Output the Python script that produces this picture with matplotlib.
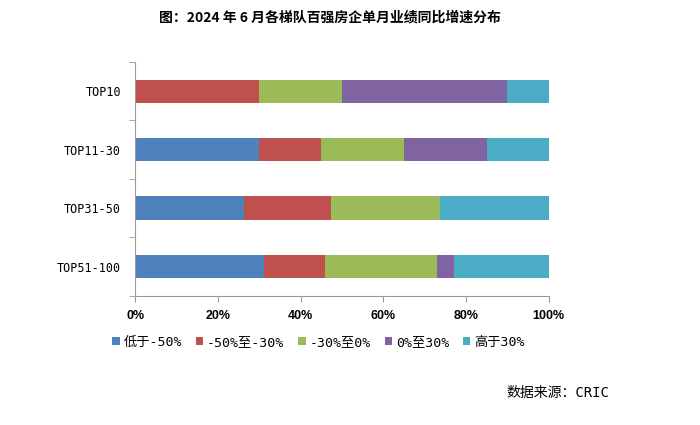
import matplotlib
matplotlib.use("Agg")
import matplotlib.pyplot as plt
import numpy as np
from matplotlib.patches import Patch

plt.rcParams["font.family"] = ["Noto Sans CJK SC", "DejaVu Sans"]
MONO = ["DejaVu Sans Mono", "Noto Sans CJK SC"]

CATEGORIES = ["TOP10", "TOP11-30", "TOP31-50", "TOP51-100"]
SERIES = ["低于-50%", "-50%至-30%", "-30%至0%", "0%至30%", "高于30%"]
COLORS = ["#4F81BD", "#C0504D", "#9BBB59", "#8064A2", "#4BACC6"]

# share of companies in each growth band (%)
below_m50 = [0.0, 30.0, 26.3, 31.2]
m50_m30 = [30.0, 15.0, 21.1, 14.6]
m30_0 = [20.0, 20.0, 26.3, 27.1]
p0_p30 = [40.0, 20.0, 0.0, 4.2]
above_p30 = [10.0, 15.0, 26.3, 22.9]
VALUES = [below_m50, m50_m30, m30_0, p0_p30, above_p30]

XTICKS = [0, 20, 40, 60, 80, 100]
XTICK_LABELS = ["0%", "20%", "40%", "60%", "80%", "100%"]

fig = plt.figure(figsize=(7, 4.25), dpi=100)
ax = fig.add_axes([0.193, 0.304, 0.591, 0.550])

y = np.arange(len(CATEGORIES))
left = np.zeros(len(CATEGORIES))
for vals, color in zip(VALUES, COLORS):
    vals = np.array(vals)
    ax.barh(y, vals, left=left, height=0.4, color=color, edgecolor="none")
    left += vals

ax.set_ylim(3.5, -0.5)
ax.set_xlim(0, 100)
ax.set_yticks(y)
ax.set_yticklabels(CATEGORIES, fontsize=8.5, family=MONO)
ax.set_yticks(np.arange(-0.5, len(CATEGORIES) + 0.5, 1), minor=True)
ax.tick_params(axis="y", which="major", length=0, pad=10)
ax.tick_params(axis="y", which="minor", length=4, color="#999999")
ax.set_xticks(XTICKS)
ax.set_xticklabels(XTICK_LABELS, fontsize=9, fontweight="bold", family=["Liberation Sans"])
ax.tick_params(axis="x", length=4, color="#999999", pad=6)

for spine in ("top", "right"):
    ax.spines[spine].set_visible(False)
for spine in ("left", "bottom"):
    ax.spines[spine].set_color("#999999")

handles = [Patch(facecolor=c, edgecolor="none") for c in COLORS]
fig.legend(handles, SERIES, loc="center", bbox_to_anchor=(0.455, 0.195), ncol=5,
           frameon=False, prop={"family": MONO, "size": 9.5},
           handlelength=0.55, handleheight=0.55,
           handletextpad=0.3, columnspacing=1.05)

fig.text(0.471, 0.96, "图：2024 年 6 月各梯队百强房企单月业绩同比增速分布",
         ha="center", va="center", fontsize=10, fontweight="bold")
fig.text(0.724, 0.075, "数据来源：CRIC", ha="left", va="center", fontsize=10, family=MONO)

fig.savefig("out.png", dpi=100)
